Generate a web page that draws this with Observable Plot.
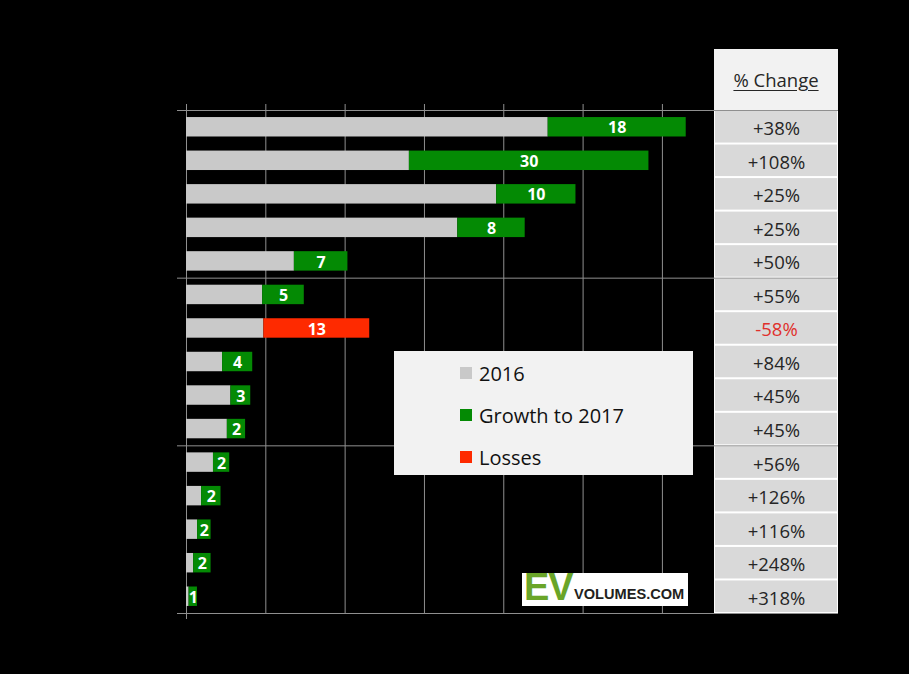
<!DOCTYPE html>
<html>
<head>
<meta charset="utf-8">
<script src="https://cdn.jsdelivr.net/npm/d3@7"></script>
<script src="https://cdn.jsdelivr.net/npm/@observablehq/plot@0.6"></script>
<style>
  html, body { margin: 0; padding: 0; background: #000; }
  #wrap { position: relative; width: 909px; height: 674px; background: #000; overflow: hidden; font-family: "Open Sans", sans-serif; }
  .layer { position: absolute; }
  #legend { position: absolute; left: 394px; top: 351px; width: 299px; height: 124px; background: #f2f2f2; }
  #legend .item { position: absolute; left: 66px; height: 30px; display: flex; align-items: center; font-size: 20px; color: #111; }
  #legend .sw { width: 12px; height: 12px; margin-right: 7px; }
  #header { position: absolute; left: 714px; top: 49px; width: 124px; height: 61px; background: #f2f2f2; display: flex; align-items: center; justify-content: center; font-size: 18.5px; color: #262626; }
  #header span { text-decoration: underline; text-underline-offset: 3px; }
  #logo { position: absolute; left: 522px; top: 573px; width: 166px; height: 33px; background: #fff; font-family: "Liberation Sans", Arial, sans-serif; font-weight: bold; white-space: nowrap; }
  #logo .ev { position: absolute; left: 2px; top: -7px; font-size: 38px; color: #6aa528; letter-spacing: -1px; }
  #logo .vol { position: absolute; left: 52px; top: 13px; font-size: 14.6px; color: #231f20; }
</style>
</head>
<body>
<div id="wrap"></div>
<script>
// ---- data ----
const ids = ["r01","r02","r03","r04","r05","r06","r07","r08","r09","r10","r11","r12","r13","r14","r15"];
const base = [45.6, 28.1, 39.1, 34.2, 13.6, 9.6, 9.75, 4.55, 5.6, 5.15, 3.4, 1.9, 1.4, 0.9, 0.33];
const change = [17.4, 30.2, 10.0, 8.5, 6.75, 5.25, 13.35, 3.8, 2.5, 2.3, 2.05, 2.45, 1.7, 2.2, 1.05];
const changeLabels = [18, 30, 10, 8, 7, 5, 13, 4, 3, 2, 2, 2, 2, 2, 1];
const isLoss = [false,false,false,false,false,false,true,false,false,false,false,false,false,false,false];
const pctChange = [38, 108, 25, 25, 50, 55, -58, 84, 45, 45, 56, 126, 116, 248, 318];
const groupStarts = ["r01", "r06", "r11"];
const xTicks = [10, 20, 30, 40, 50, 60];
const seriesNames = ["2016", "Growth to 2017", "Losses"];
const seriesColors = ["#c9c9c9", "#048a04", "#fe2a00"];
const tableTitle = "% Change";

// ---- derived tables ----
const rows = ids.map((id, i) => ({
  id, base: base[i], change: change[i], label: changeLabels[i],
  series: isLoss[i] ? seriesNames[2] : seriesNames[1],
  pct: pctChange[i]
}));
const long = rows.flatMap(r => [
  {id: r.id, series: seriesNames[0], value: r.base},
  {id: r.id, series: r.series, value: r.change}
]);

const W = 909, H = 674, mTop = 110, mBottom = 61, mLeft = 186, mRight = 71;
const step = (H - mTop - mBottom) / ids.length;
const lineColor = "#8f8f8f";

const wrap = document.getElementById("wrap");

// ---- table (drawn below the main chart) ----
const table = Plot.plot({
  width: 124, height: H - mTop - mBottom,
  marginTop: 0, marginBottom: 0, marginLeft: 0, marginRight: 0,
  style: {background: "#ffffff", fontFamily: "Open Sans, sans-serif"},
  x: {type: "band", domain: ["c"], padding: 0, round: false, axis: null},
  y: {type: "band", domain: ids, padding: 0, round: false, axis: null},
  marks: [
    Plot.cell(rows, {x: () => "c", y: "id", fill: "#d9d9d9", insetTop: 1, insetBottom: 1, insetLeft: 1, insetRight: 1}),
    Plot.text(rows, {
      x: () => "c", y: "id", dy: 2,
      text: d => (d.pct > 0 ? "+" : "") + d.pct + "%",
      fill: d => d.pct < 0 ? "#e0302c" : "#262626",
      fontSize: 18.5
    })
  ]
});
table.classList.add("layer");
table.style.left = "714px";
table.style.top = mTop + "px";
wrap.appendChild(table);

const header = document.createElement("div");
header.id = "header";
header.innerHTML = `<span>${tableTitle}</span>`;
wrap.appendChild(header);

// ---- main chart ----
const chart = Plot.plot({
  width: W, height: H,
  marginTop: mTop, marginBottom: mBottom, marginLeft: mLeft, marginRight: mRight,
  style: {background: "transparent", fontFamily: "Open Sans, sans-serif"},
  x: {domain: [0, (W - mLeft - mRight) / 7.932], axis: null},
  y: {type: "band", domain: ids, paddingInner: 0.42, paddingOuter: 0.21, round: false, axis: null},
  color: {domain: seriesNames, range: seriesColors},
  marks: [
    Plot.ruleX(xTicks, {x: d => d, stroke: lineColor, insetTop: -6}),
    Plot.ruleX([0], {x: d => d, stroke: lineColor, insetTop: -6, insetBottom: -6}),
    Plot.ruleY(groupStarts, {y: d => d, dy: -step / 2, stroke: lineColor, insetLeft: -9}),
    Plot.ruleY([ids[ids.length - 1]], {y: d => d, dy: step / 2, stroke: lineColor, insetLeft: -9}),
    Plot.barX(long, {x: "value", y: "id", fill: "series"}),
    Plot.text(rows, {
      x: d => d.base + d.change / 2, y: "id", text: "label",
      fill: "white", fontWeight: "bold", fontSize: 16, dy: 1
    })
  ]
});
chart.classList.add("layer");
chart.style.left = "0px";
chart.style.top = "0px";
wrap.appendChild(chart);

// ---- legend ----
const legend = document.createElement("div");
legend.id = "legend";
seriesNames.forEach((name, i) => {
  const it = document.createElement("div");
  it.className = "item";
  it.style.top = (7 + i * 42) + "px";
  it.innerHTML = `<span class="sw" style="background:${seriesColors[i]}"></span><span>${name}</span>`;
  legend.appendChild(it);
});
wrap.appendChild(legend);

// ---- logo ----
const logo = document.createElement("div");
logo.id = "logo";
logo.innerHTML = `<span class="ev">EV</span><span class="vol">VOLUMES.COM</span>`;
wrap.appendChild(logo);
</script>
</body>
</html>
